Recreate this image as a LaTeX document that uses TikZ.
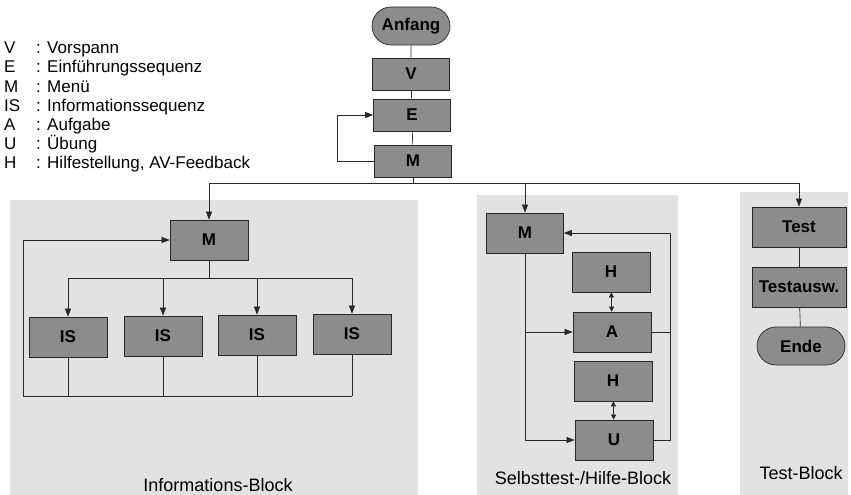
\documentclass[tikz,border=0pt]{standalone}
\usepackage{fontspec}
\setmainfont{Liberation Sans}
\usetikzlibrary{arrows.meta,shapes.misc}
\definecolor{boxgrey}{RGB}{140,140,140}
\definecolor{bggrey}{RGB}{226,226,226}
\definecolor{linec}{RGB}{40,40,40}
\begin{document}
\begin{tikzpicture}[x=1pt,y=-1pt,
  box/.style={draw=linec,fill=boxgrey,line width=0.7pt,minimum width=78pt,minimum height=40pt,inner sep=0pt,font=\fontsize{17}{17}\selectfont\bfseries},
  term/.style={box,rounded rectangle,minimum height=38pt},
  conn/.style={draw=linec,line width=0.65pt},
  arr/.style={conn,-{Triangle[length=8pt,width=6pt]}},
  dbl/.style={conn,{Triangle[length=5pt,width=5pt]}-{Triangle[length=5pt,width=5pt]}},
  legend/.style={font=\fontsize{17}{17}\selectfont,anchor=base west,inner sep=0pt},
  blocklabel/.style={font=\fontsize{18}{18}\selectfont,inner sep=0pt}
]
\useasboundingbox (0,0) rectangle (851,495);
% background blocks
\fill[bggrey] (10,200) rectangle (418,495);
\fill[bggrey] (477,195) rectangle (678,495);
\fill[bggrey] (740,192) rectangle (848,495);

% legend
\foreach \k/\l/\t/\y in {1/V/Vorspann/54, 2/E/Einführungssequenz/73, 3/M/Menü/92.5, 4/IS/Informationssequenz/111.5, 5/A/Aufgabe/130.5, 6/U/Übung/149.5, 7/H/{Hilfestellung, AV-Feedback}/168.5}{
  \node[legend] (lk\k) at (4,\y) {\l};
  \node[legend] (lt\k) at (36,\y) {: \t};
}

% top chain
\node[term,minimum width=78pt] (anf) at (411,26) {Anfang};
\node[box,minimum height=32pt,minimum width=77pt] (v) at (411,74) {V};
\node[box,minimum height=32pt,minimum width=77pt] (e) at (412,115) {E};
\node[box,minimum height=32pt,minimum width=77pt] (m0) at (413,161) {M};
\draw[conn] (anf) -- (v);
\draw[conn] (v) -- (e);
\draw[conn] (e) -- (m0);
\coordinate (lp) at (337,161);
\draw[arr] (m0.west) -- (lp) |- (e.west);

% info block
\node[box] (mi) at (209,240) {M};
\node[box] (is1) at (68,337) {IS};
\node[box] (is2) at (163,336) {IS};
\node[box] (is3) at (257,335) {IS};
\node[box] (is4) at (352,334) {IS};

% self test block
\node[box,minimum width=77pt] (ms) at (525,233) {M};
\node[box] (h1) at (611,272) {H};
\node[box] (a) at (612,332) {A};
\node[box] (h2) at (613,381) {H};
\node[box] (u) at (614,440) {U};

% test block
\node[box,minimum width=94pt] (test) at (799,227) {Test};
\node[box,minimum width=94pt] (ausw) at (799,287) {Testausw.};
\node[term,minimum width=88pt] (ende) at (801,346) {Ende};

% bus from main menu
\coordinate (bus) at (413,183);
\draw[conn] (m0.south) -- (bus);
\draw[arr] (bus) -| (mi.north);
\draw[arr] (bus) -| (ms.north);
\draw[arr] (bus) -| (test.north);

% info block connections
\coordinate (ib) at (209,278);
\draw[conn] (mi.south) -- (ib);
\foreach \n in {is1,is2,is3,is4}{
  \draw[arr] (ib) -| (\n.north);
}
\coordinate (ibot) at (23,396);
\foreach \n in {is1,is2,is3,is4}{
  \draw[conn] (\n.south) -- (\n.south |- ibot);
}
\draw[conn] (is4.south |- ibot) -- (ibot);
\draw[arr] (ibot) |- (mi.west);

% self test connections
\draw[dbl] (h1) -- (a);
\draw[dbl] (h2) -- (u);
\draw[arr] (ms.south) |- (u.west);
\draw[arr] (ms.south |- a.west) -- (a.west);
\coordinate (sr) at (670,300);
\draw[conn] (a.east) -- (a.east -| sr);
\draw[arr] (u.east) -- (u.east -| sr) |- (ms.east);

% test connections
\draw[conn] (test) -- (ausw);
\draw[conn] (ausw) -- (ende);

% block labels
\node[blocklabel] (lbi) at (218,485) {Informations-Block};
\node[blocklabel] (lbs) at (583,478) {Selbsttest-/Hilfe-Block};
\node[blocklabel] (lbt) at (801,473) {Test-Block};
\end{tikzpicture}
\end{document}
